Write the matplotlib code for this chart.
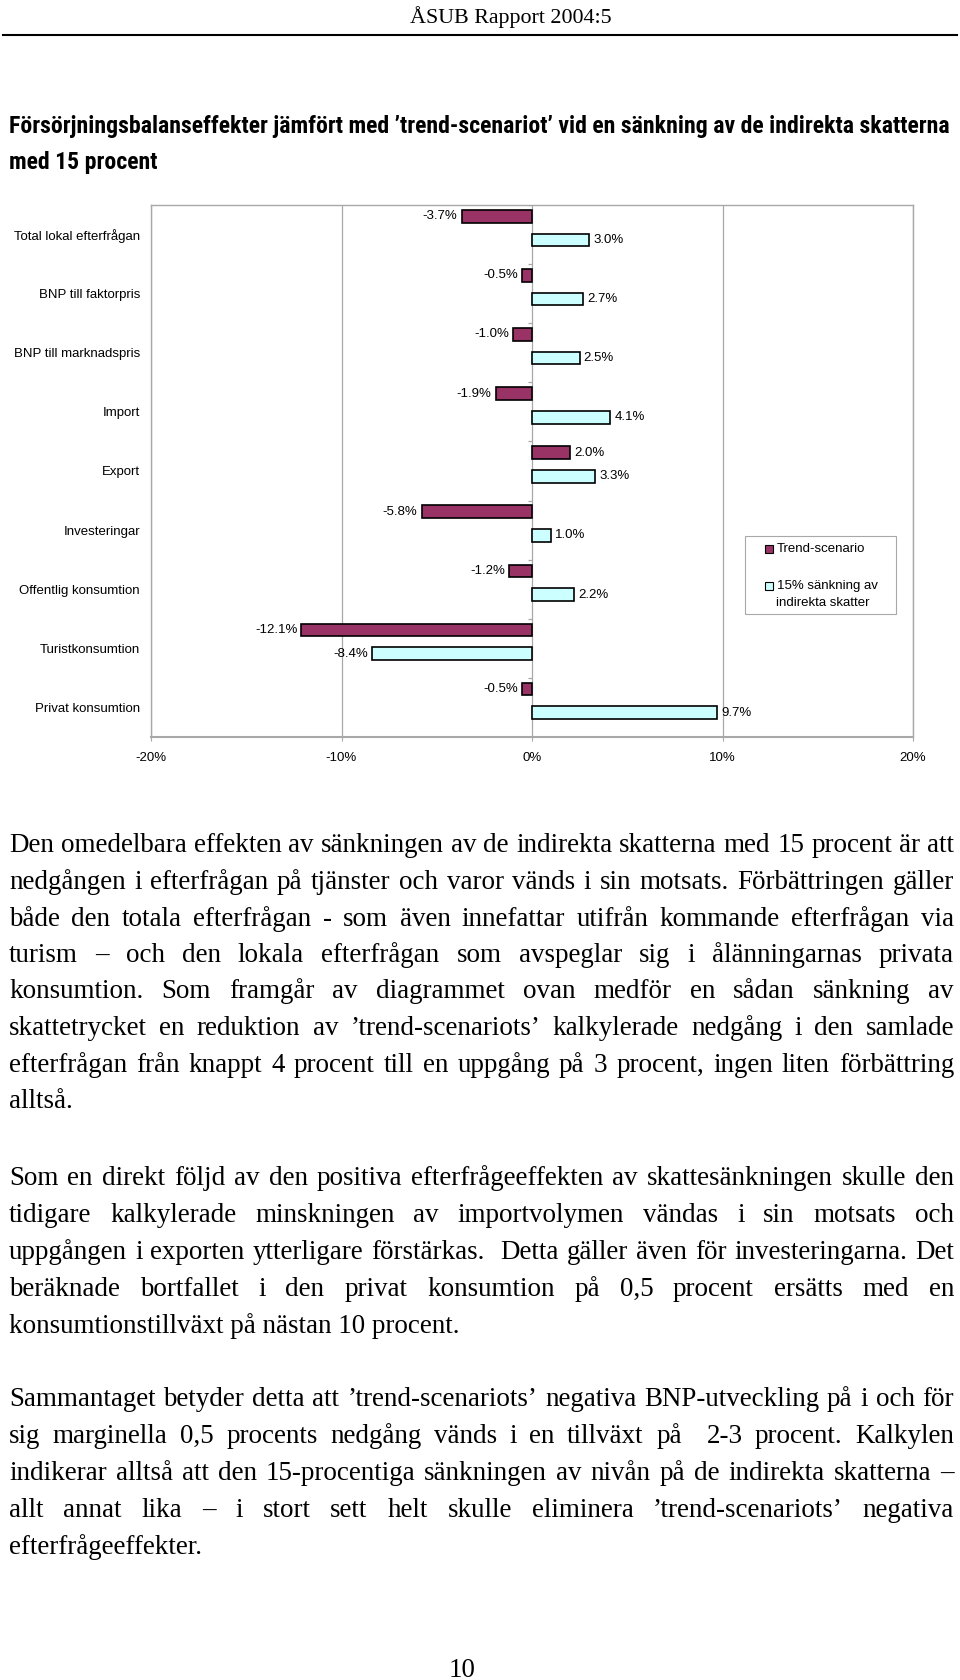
import matplotlib
matplotlib.use('Agg')
import matplotlib.pyplot as plt
from matplotlib.patches import Rectangle
from matplotlib.lines import Line2D
from matplotlib import font_manager
import numpy as np

# ---------------- data ----------------
categories = ["Total lokal efterfrågan", "BNP till faktorpris", "BNP till marknadspris",
              "Import", "Export", "Investeringar", "Offentlig konsumtion",
              "Turistkonsumtion", "Privat konsumtion"]
trend_values = [-3.7, -0.5, -1.0, -1.9, 2.0, -5.8, -1.2, -12.1, -0.5]
cut_values = [3.0, 2.7, 2.5, 4.1, 3.3, 1.0, 2.2, -8.4, 9.7]
series_names = ["Trend-scenario", "15% sänkning av", "indirekta skatter"]
x_ticks = [-20, -10, 0, 10, 20]
x_tick_labels = ["-20%", "-10%", "0%", "10%", "20%"]

header_text = "ÅSUB Rapport 2004:5"
title_lines = ["Försörjningsbalanseffekter jämfört med ’trend-scenariot’ vid en sänkning av de indirekta skatterna",
               "med 15 procent"]
para1 = ["Den omedelbara effekten av sänkningen av de indirekta skatterna med 15 procent är att",
         "nedgången i efterfrågan på tjänster och varor vänds i sin motsats. Förbättringen gäller",
         "både den totala efterfrågan - som även innefattar utifrån kommande efterfrågan via",
         "turism – och den lokala efterfrågan som avspeglar sig i ålänningarnas privata",
         "konsumtion. Som framgår av diagrammet ovan medför en sådan sänkning av",
         "skattetrycket en reduktion av ’trend-scenariots’ kalkylerade nedgång i den samlade",
         "efterfrågan från knappt 4 procent till en uppgång på 3 procent, ingen liten förbättring",
         "alltså."]
para2 = ["Som en direkt följd av den positiva efterfrågeeffekten av skattesänkningen skulle den",
         "tidigare kalkylerade minskningen av importvolymen vändas i sin motsats och",
         "uppgången i exporten ytterligare förstärkas.  Detta gäller även för investeringarna. Det",
         "beräknade bortfallet i den privat konsumtion på 0,5 procent ersätts med en",
         "konsumtionstillväxt på nästan 10 procent."]
para3 = ["Sammantaget betyder detta att ’trend-scenariots’ negativa BNP-utveckling på i och för",
         "sig marginella 0,5 procents nedgång vänds i en tillväxt på  2-3 procent. Kalkylen",
         "indikerar alltså att den 15-procentiga sänkningen av nivån på de indirekta skatterna –",
         "allt annat lika – i stort sett helt skulle eliminera ’trend-scenariots’ negativa",
         "efterfrågeeffekter."]
page_number = "10"

# ---------------- style ----------------
W, H, DPI = 960, 1680, 100
TREND_COLOR = '#993366'
CUT_COLOR = '#CCFFFF'
GRID = '#a8a8a8'


def has_font(name):
    try:
        font_manager.findfont(font_manager.FontProperties(family=name), fallback_to_default=False)
        return True
    except Exception:
        return False


SANS = 'Liberation Sans'
SERIF = 'Liberation Serif'
NARROW = SANS
for cand in ('Liberation Sans Narrow', 'Arial Narrow', 'Roboto Condensed', 'Open Sans Condensed'):
    if has_font(cand):
        NARROW = cand
        break

fig = plt.figure(figsize=(W / DPI, H / DPI), dpi=DPI)
fig.patch.set_facecolor('white')
renderer = fig.canvas.get_renderer()


def fx(x):
    return x / W


def fy(y):
    return 1 - y / H


def fit_size(text, family, weight, target, base=14.0):
    t = fig.text(0, 0, text, family=family, weight=weight, fontsize=base)
    w = t.get_window_extent(renderer).width
    t.remove()
    return base * target / w


# ---------------- header ----------------
hsize = fit_size(header_text, SERIF, 'normal', 203)
fig.text(fx(410), fy(23.3), header_text, family=SERIF, fontsize=hsize, va='baseline', ha='left')
fig.add_artist(Line2D([fx(3), fx(957)], [fy(35), fy(35)], color='black', lw=1.5))

# ---------------- title ----------------
tsize = fit_size(title_lines[0], NARROW, 'bold', 945)
fig.text(fx(9), fy(133.5), title_lines[0], family=NARROW, weight='bold', fontsize=tsize,
         va='baseline', ha='left')
fig.text(fx(9), fy(169), title_lines[1], family=NARROW, weight='bold', fontsize=tsize,
         va='baseline', ha='left')

# ---------------- chart ----------------
ax = fig.add_axes([fx(151), fy(737), (913 - 151) / W, (737 - 205) / H])
y = np.arange(len(categories))
OFF_T, OFF_C, BH = -0.31, 0.09, 0.213
ax.barh(y + OFF_T, trend_values, height=BH, color=TREND_COLOR, edgecolor='black',
        linewidth=1.2, zorder=3)
ax.barh(y + OFF_C, cut_values, height=BH, color=CUT_COLOR, edgecolor='black',
        linewidth=1.2, zorder=3)
ax.set_xlim(x_ticks[0], x_ticks[-1])
ax.set_ylim(len(categories) - 0.5, -0.5)
ax.set_xticks(x_ticks)
ax.set_xticklabels(x_tick_labels, family=SANS, fontsize=9.5)
ax.set_yticks(y)
ax.set_yticklabels(categories, family=SANS, fontsize=9.5)
ax.tick_params(axis='y', length=0, pad=8)
ax.tick_params(axis='x', length=3, color=GRID, pad=7.5)
ax.xaxis.grid(True, color=GRID, lw=0.9, zorder=0)
ax.set_axisbelow(True)
for s in ('top', 'left', 'right'):
    ax.spines[s].set_color(GRID)
    ax.spines[s].set_linewidth(1.0)
ax.spines['bottom'].set_color(GRID)
ax.spines['bottom'].set_linewidth(1.5)
# category tick marks on the zero axis
ax.hlines(np.arange(len(categories) + 1) - 0.5, -0.22, 0, color=GRID, lw=0.9, zorder=1)

for vals, off in ((trend_values, OFF_T), (cut_values, OFF_C)):
    for i, v in enumerate(vals):
        ax.annotate(f"{v:.1f}%", xy=(v, i + off), xytext=(3 if v >= 0 else -3, 0),
                    textcoords='offset points', ha='left' if v >= 0 else 'right',
                    va='center', fontsize=9.5, family=SANS, zorder=5)

# ---------------- legend ----------------
LX = 3
fig.add_artist(Rectangle((fx(742 + LX), fy(614)), (893 - 742) / W, (614 - 536) / H,
                         transform=fig.transFigure, facecolor='white', edgecolor=GRID, lw=0.8))
fig.add_artist(Rectangle((fx(762 + LX), fy(552.5)), 8 / W, 7.5 / H, transform=fig.transFigure,
                         facecolor=TREND_COLOR, edgecolor='black', lw=0.8))
fig.add_artist(Rectangle((fx(762 + LX), fy(589.5)), 8 / W, 7.5 / H, transform=fig.transFigure,
                         facecolor=CUT_COLOR, edgecolor='black', lw=0.8))
fig.text(fx(774 + LX), fy(549), series_names[0], family=SANS, fontsize=9.5, va='center', ha='left')
fig.text(fx(774 + LX), fy(585.5), series_names[1], family=SANS, fontsize=9.5, va='center', ha='left')
fig.text(fx(773 + LX), fy(602.5), series_names[2], family=SANS, fontsize=9.5, va='center', ha='left')

# ---------------- body text (justified) ----------------
X_LEFT, X_RIGHT = 9, 954
BODY_SIZE = min(fit_size(para1[0], SERIF, 'normal', X_RIGHT - X_LEFT),
                fit_size(para3[0], SERIF, 'normal', X_RIGHT - X_LEFT))


def draw_paragraph(lines, y_base0, step):
    for k, line in enumerate(lines):
        yb = y_base0 + k * step
        if k == len(lines) - 1:
            fig.text(fx(X_LEFT), fy(yb), line, family=SERIF, fontsize=BODY_SIZE,
                     va='baseline', ha='left')
            continue
        words = line.split(' ')
        widths = []
        for wd in words:
            if wd:
                t = fig.text(0, 0, wd, family=SERIF, fontsize=BODY_SIZE)
                widths.append(t.get_window_extent(renderer).width)
                t.remove()
            else:
                widths.append(0.0)
        gap = (X_RIGHT - X_LEFT - sum(widths)) / max(len(words) - 1, 1)
        x = X_LEFT
        for wd, wdt in zip(words, widths):
            if wd:
                fig.text(fx(x), fy(yb), wd, family=SERIF, fontsize=BODY_SIZE,
                         va='baseline', ha='left')
            x += wdt + gap


draw_paragraph(para1, 852.5, 36.5)
draw_paragraph(para2, 1185, 36.9)
draw_paragraph(para3, 1406.5, 36.9)

fig.text(fx(462), fy(1677), page_number, family=SERIF, fontsize=BODY_SIZE, va='baseline', ha='center')

fig.savefig('out.png', dpi=DPI, facecolor='white')
